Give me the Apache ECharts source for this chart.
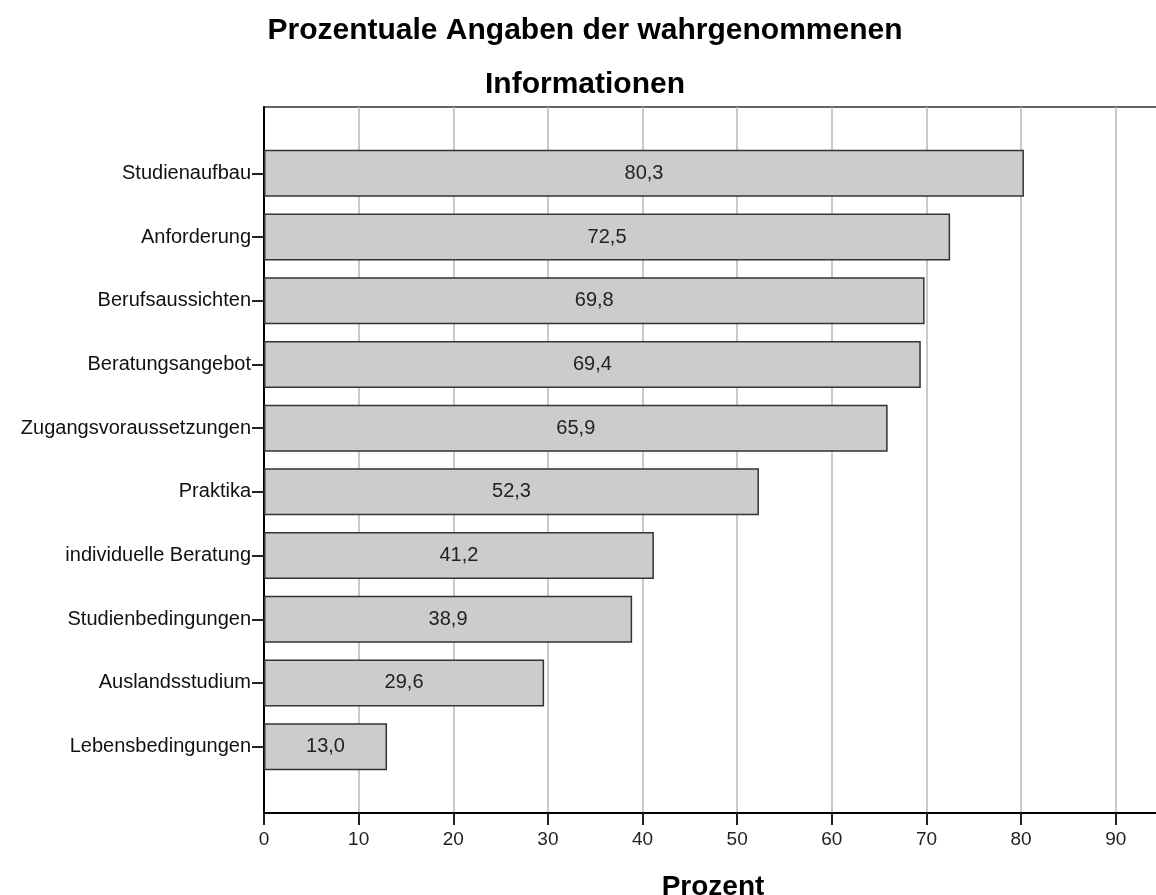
<!DOCTYPE html>
<html>
<head>
<meta charset="utf-8">
<script src="https://cdn.jsdelivr.net/npm/echarts@6/dist/echarts.min.js"></script>
<style>
  html, body { margin: 0; padding: 0; background: #ffffff; }
  #chart { width: 1156px; height: 895px; }
</style>
</head>
<body>
<div id="chart"></div>
<script>
// Kategorien (von oben nach unten) und Prozentwerte
const categories = ['Studienaufbau', 'Anforderung', 'Berufsaussichten', 'Beratungsangebot',
  'Zugangsvoraussetzungen', 'Praktika', 'individuelle Beratung', 'Studienbedingungen',
  'Auslandsstudium', 'Lebensbedingungen'];
const values = [80.3, 72.5, 69.8, 69.4, 65.9, 52.3, 41.2, 38.9, 29.6, 13.0];
// x-Achse: 0..90 in 10er Schritten, Bild rechts abgeschnitten
const xMin = 0;
const xMax = 95.1;
const xStep = 10;

const font = "'Liberation Sans', Arial, sans-serif";

const myChart = echarts.init(document.getElementById('chart'));

const option = {
  animation: false,
  backgroundColor: '#ffffff',
  title: [
    {
      text: 'Prozentuale Angaben der wahrgenommenen\nInformationen',
      left: 580,
      top: -1,
      textAlign: 'center',
      textStyle: { fontFamily: font, fontSize: 30, fontWeight: 'bold', color: '#000', lineHeight: 54 }
    },
    {
      text: 'Prozent',
      left: 708,
      top: 868,
      textAlign: 'center',
      textStyle: { fontFamily: font, fontSize: 28, fontWeight: 'bold', color: '#000', lineHeight: 28 }
    }
  ],
  grid: [
    // Rahmen mit Gitterlinien (rechter Rand liegt ausserhalb des Bildes)
    { left: 264, width: 900, top: 107, bottom: 82, outerBoundsMode: 'none', show: true, borderColor: '#666', borderWidth: 2, backgroundColor: 'transparent' },
    // Balkenbereich
    { left: 264, width: 900, top: 141.5, bottom: 116.5, outerBoundsMode: 'none' }
  ],
  xAxis: [
    {
      gridIndex: 0,
      type: 'value',
      min: xMin,
      max: xMax,
      interval: xStep,
      axisLine: { show: true, lineStyle: { color: '#000', width: 2 } },
      axisTick: { show: true, length: 12, lineStyle: { color: '#222', width: 2 } },
      axisLabel: {
        margin: 17,
        fontFamily: font,
        fontSize: 19,
        color: '#222',
        formatter: function (v) { return v % xStep === 0 ? String(v) : ''; }
      },
      splitLine: { show: true, lineStyle: { color: '#b8b8b8', width: 1.5 } }
    },
    {
      gridIndex: 1,
      type: 'value',
      min: xMin,
      max: xMax,
      interval: xStep,
      show: false
    }
  ],
  yAxis: [
    {
      gridIndex: 0,
      type: 'value',
      min: 0,
      max: 1,
      axisLine: { show: true, lineStyle: { color: '#000', width: 2 } },
      axisTick: { show: false },
      axisLabel: { show: false },
      splitLine: { show: false }
    },
    {
      gridIndex: 1,
      type: 'category',
      inverse: true,
      data: categories,
      axisLine: { show: false },
      axisTick: { show: true, alignWithLabel: true, length: 12, lineStyle: { color: '#222', width: 2 } },
      axisLabel: { margin: 13, fontFamily: font, fontSize: 20, color: '#111' }
    }
  ],
  series: [
    {
      type: 'bar',
      xAxisIndex: 1,
      yAxisIndex: 1,
      data: values,
      barWidth: 47,
      itemStyle: { color: '#cccccc', borderColor: '#333', borderWidth: 1.5 },
      label: {
        show: true,
        position: 'inside',
        fontFamily: font,
        fontSize: 20,
        color: '#222',
        formatter: function (p) { return p.value.toFixed(1).replace('.', ','); }
      }
    }
  ]
};

myChart.setOption(option);
</script>
</body>
</html>
